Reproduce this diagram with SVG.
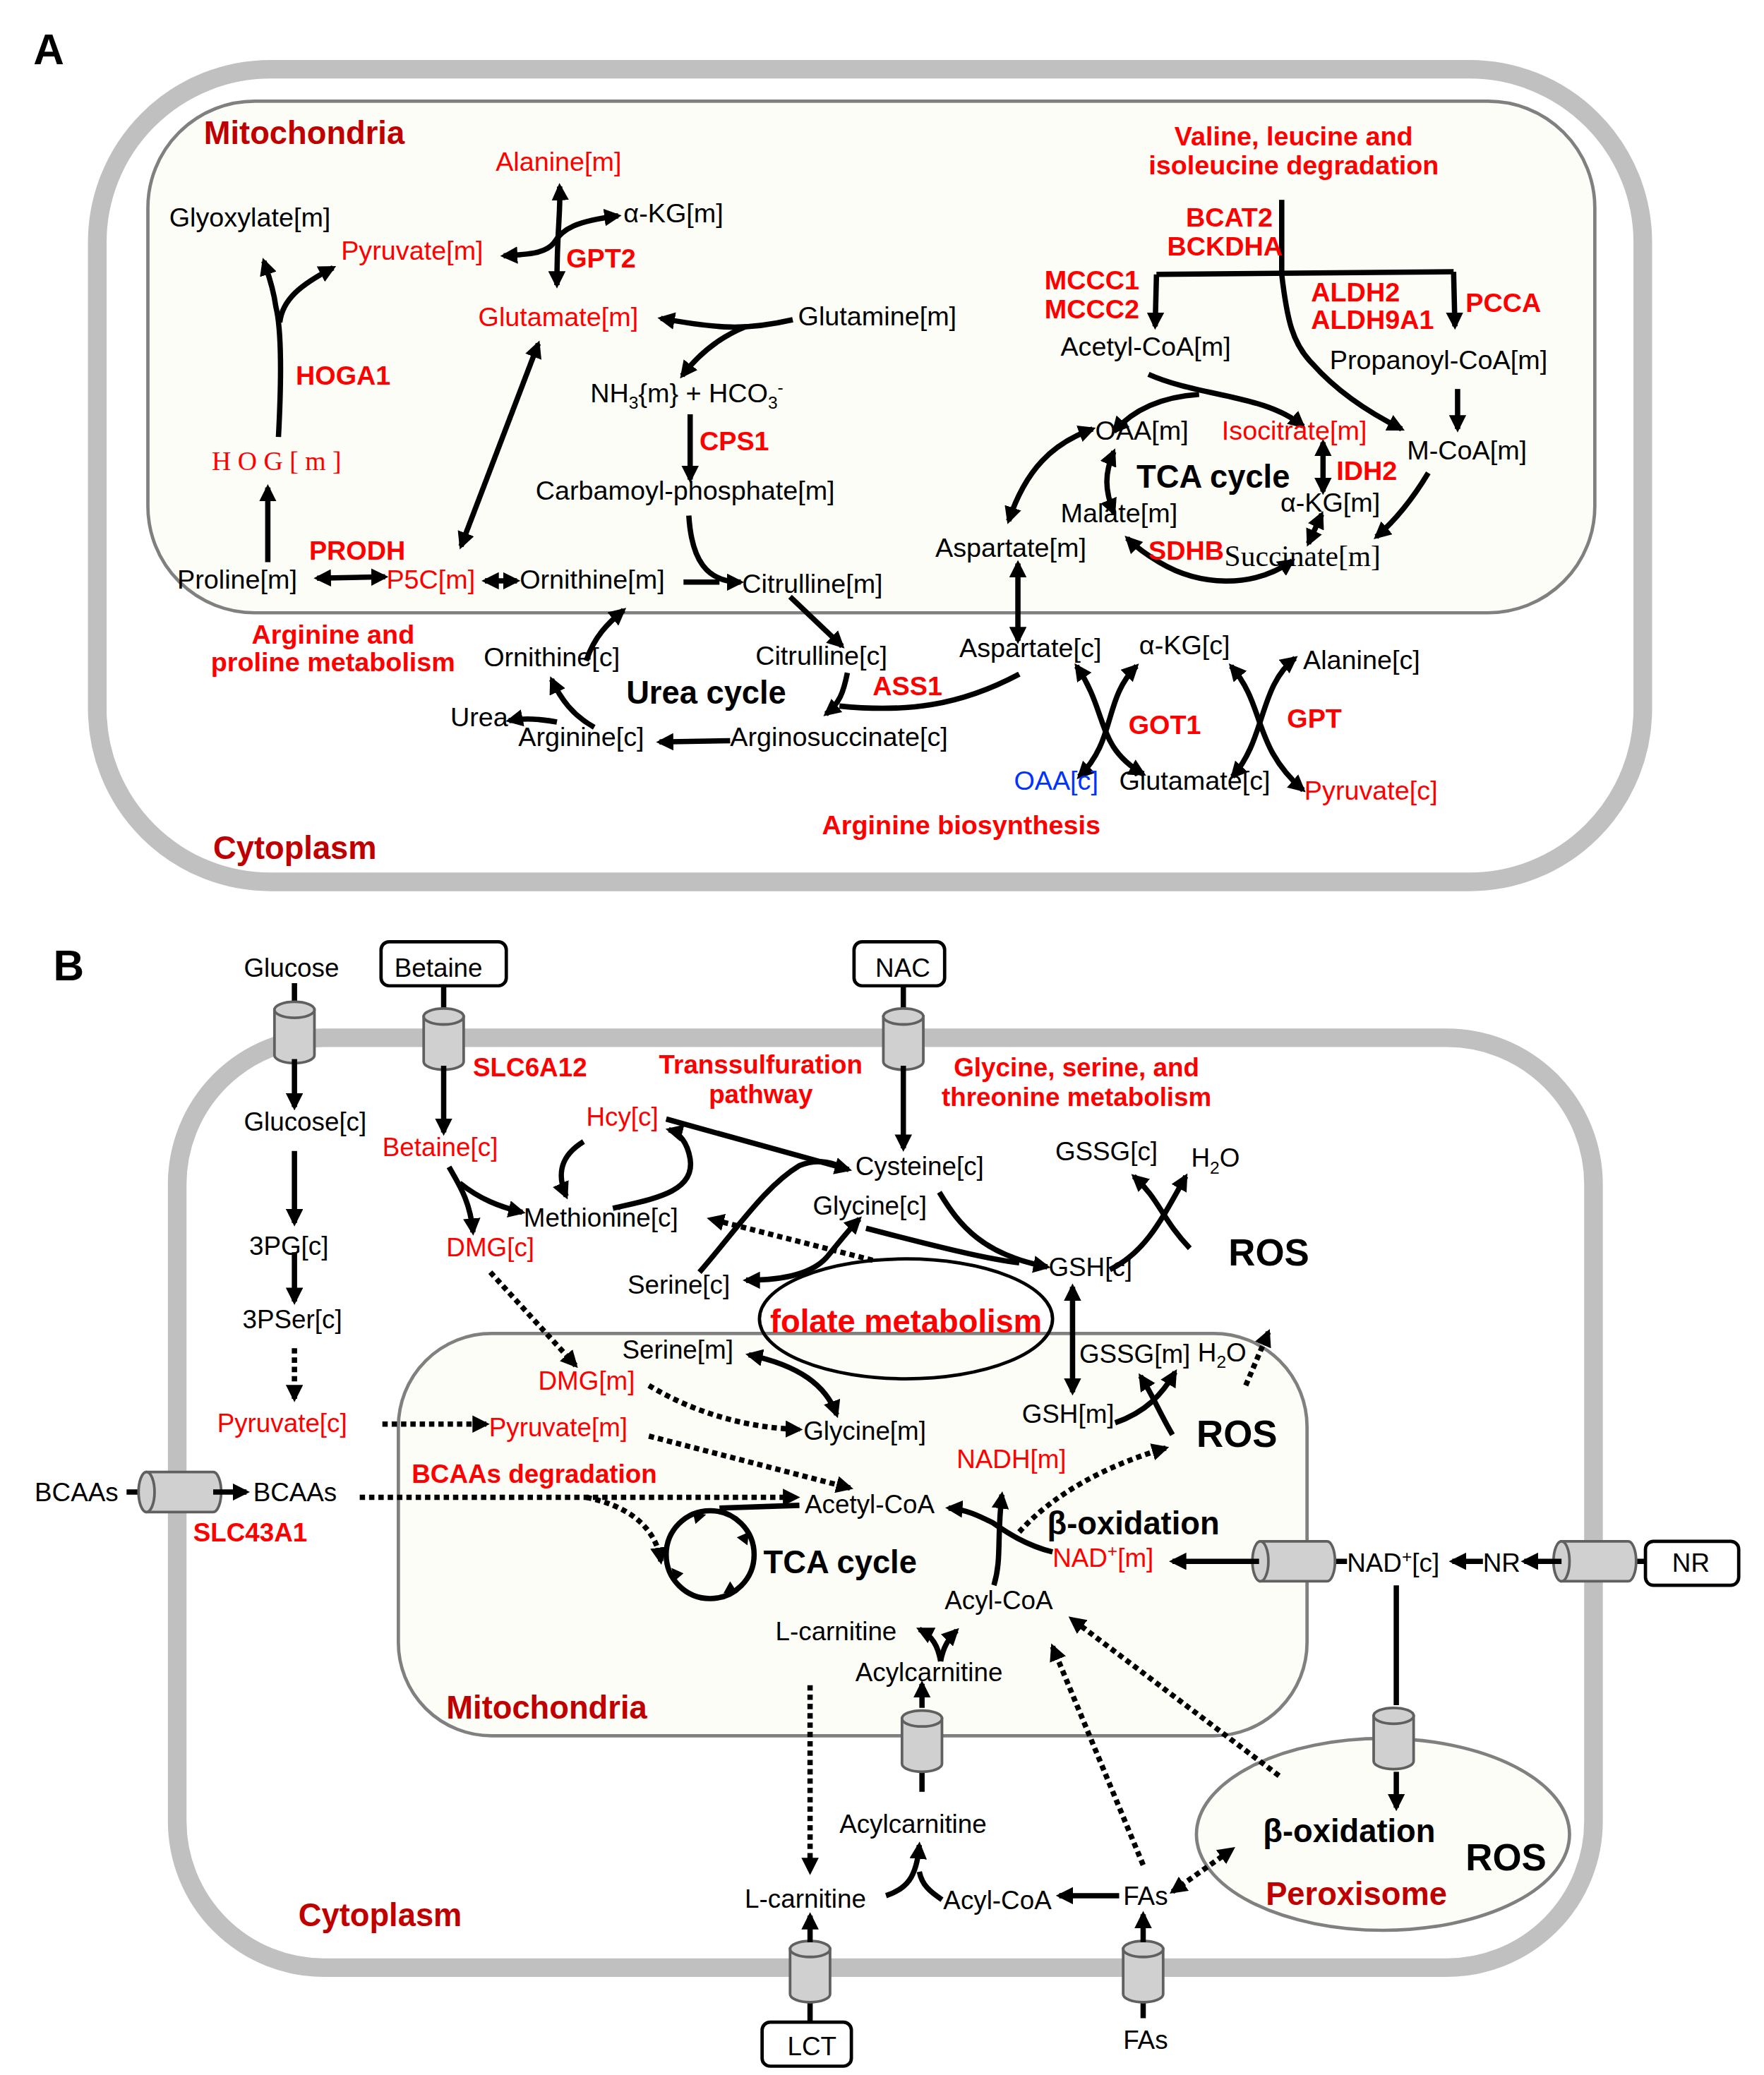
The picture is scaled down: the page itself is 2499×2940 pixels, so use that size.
<svg xmlns="http://www.w3.org/2000/svg" width="2499" height="2940" viewBox="0 0 2499 2940">
<defs>
<style>
text{font-family:"Liberation Sans",Arial,sans-serif;font-size:20px;fill:#000}
.r{fill:#ff0000}
.b{fill:#0033ff}
.e{font-weight:bold;fill:#ff0000}
.t{font-weight:bold;font-size:24px;fill:#c00000}
.k{font-weight:bold;font-size:24px}
.ros{font-weight:bold;font-size:28px}
.B text{font-size:19.5px}
.B .e{font-size:19.5px}
.B .t,.B .k{font-size:24px}
.B .ros{font-size:28px}
.a{fill:none;stroke:#000;stroke-width:4;marker-end:url(#ah)}
.d{fill:none;stroke:#000;stroke-width:4;marker-end:url(#ah);marker-start:url(#ah)}
.l{fill:none;stroke:#000;stroke-width:4}
.dot{fill:none;stroke:#000;stroke-width:4;stroke-dasharray:4 3;marker-end:url(#ah)}
.cell{fill:#fff;stroke:#c0c0c0;stroke-width:14}
.mito{fill:#fdfdf7;stroke:#808080;stroke-width:2.5}
.cyl{fill:#d0d0d0;stroke:#606060;stroke-width:2}
.box{fill:#fff;stroke:#000;stroke-width:2.5}
</style>
<marker id="ah" viewBox="0 0 10 10" refX="8" refY="5" markerWidth="13" markerHeight="13" markerUnits="userSpaceOnUse" orient="auto-start-reverse"><path d="M0,0 L10,5 L0,10 z" fill="#000"/></marker>
<g id="cylV"><path class="cyl" d="M-15,-17 v34 a15,6 0 0 0 30,0 v-34 z"/><ellipse class="cyl" cx="0" cy="-17" rx="15" ry="6"/></g>
<g id="cylH"><path class="cyl" d="M-25,-15 h50 a6,15 0 0 1 0,30 h-50 z"/><ellipse class="cyl" cx="-25" cy="0" rx="6" ry="15"/></g>
</defs>
<rect width="2499" height="2940" fill="#fff"/>
<g transform="scale(1.8875)">
<g id="panelA">
<text x="25" y="48" style="font-weight:bold;font-size:32px">A</text>
<rect class="cell" x="73" y="52" width="1160" height="610" rx="130"/>
<rect class="mito" x="111" y="76" width="1086" height="384" rx="80"/>
<text class="t" x="153" y="108">Mitochondria</text>
<text class="t" x="160" y="645">Cytoplasm</text>
</g>
<g id="connectorsA">
<path class="a" d="M201,422 V366"/>
<path class="a" d="M209,328 C211,290 212,250 207,230 C205,215 201,205 198,196"/>
<path class="a" d="M210,242 C212,225 225,214 250,201"/>
<path class="d" d="M420,140 C421,160 418,170 418,214"/>
<path class="d" d="M464,162 C432,166 422,172 416,182 C410,190 398,191 378,192"/>
<path class="a" d="M595,240 C560,248 540,247 496,239"/>
<path class="a" d="M560,245 C540,253 525,265 512,282"/>
<path class="a" d="M518,311 V360"/>
<path class="d" d="M404,258 L346,410"/>
<path class="d" d="M238,434 L289,433"/>
<path class="d" d="M364,436 L388,436"/>
<path class="a" d="M517,387 C519,420 530,437 556,437"/>
<path class="l" d="M513,437 L540,437"/>
<path class="a" d="M593,448 L632,485"/>
<path class="a" d="M636,505 C633,520 630,528 620,536"/>
<path class="l" d="M765,506 C720,530 680,535 630,530"/>
<path class="a" d="M548,556 L495,557"/>
<path class="a" d="M446,546 C430,537 421,525 414,510"/>
<path class="a" d="M418,542 C402,539 392,539 382,541"/>
<path class="a" d="M440,496 C446,478 456,468 468,458"/>
<path class="l" d="M962,150 V206"/>
<path class="l" d="M868,206 L1091,204"/>
<path class="a" d="M868,206 L867,245"/>
<path class="a" d="M1091,204 L1092,245"/>
<path class="a" d="M962,206 C966,240 970,258 985,273 C1000,290 1020,306 1052,322"/>
<path class="a" d="M1094,292 V322"/>
<path class="a" d="M1072,355 C1060,375 1048,390 1033,403"/>
<path class="a" d="M862,281 C900,298 950,296 978,320"/>
<path class="a" d="M900,296 C870,298 850,308 836,324"/>
<path class="d" d="M836,339 C829,355 829,368 836,385"/>
<path class="d" d="M993,332 V369"/>
<path class="d" d="M992,386 L982,408"/>
<path class="d" d="M970,421 C940,442 900,440 870,422 C860,416 852,410 846,404"/>
<path class="d" d="M820,322 C790,333 770,352 757,391"/>
<path class="d" d="M764,423 V481"/>
<path class="d" d="M808,500 C832,535 822,560 858,581"/>
<path class="d" d="M853,500 C828,525 838,555 810,583"/>
<path class="d" d="M924,500 C950,530 940,560 978,593"/>
<path class="d" d="M972,494 C945,515 950,555 925,583"/>
</g>
<g id="labelsA">
<text class="r" x="372" y="128">Alanine[m]</text>
<text x="468" y="167">α-KG[m]</text>
<text x="127" y="170">Glyoxylate[m]</text>
<text class="r" x="256" y="195">Pyruvate[m]</text>
<text class="e" x="425" y="201">GPT2</text>
<text class="r" x="359" y="245">Glutamate[m]</text>
<text x="599" y="244">Glutamine[m]</text>
<text class="e" x="222" y="289">HOGA1</text>
<text x="443" y="302">NH<tspan font-size="13" dy="5">3</tspan><tspan dy="-5">{m} + HCO</tspan><tspan font-size="13" dy="5">3</tspan><tspan font-size="13" dy="-12">-</tspan></text>
<text class="e" x="525" y="338">CPS1</text>
<text class="r" x="159" y="353" style="font-family:'Liberation Serif',serif;letter-spacing:5px">HOG[m]</text>
<text x="402" y="375">Carbamoyl-phosphate[m]</text>
<text class="e" x="232" y="420">PRODH</text>
<text x="133" y="442">Proline[m]</text>
<text class="r" x="290" y="442">P5C[m]</text>
<text x="390" y="442">Ornithine[m]</text>
<text x="557" y="445">Citrulline[m]</text>
<text class="e" x="250" y="483" text-anchor="middle">Arginine and</text>
<text class="e" x="250" y="504" text-anchor="middle">proline metabolism</text>
<text x="363" y="500">Ornithine[c]</text>
<text x="567" y="499">Citrulline[c]</text>
<text class="k" x="470" y="528">Urea cycle</text>
<text class="e" x="655" y="522">ASS1</text>
<text x="338" y="545">Urea</text>
<text x="389" y="560">Arginine[c]</text>
<text x="548" y="560">Arginosuccinate[c]</text>
<text class="e" x="617" y="626">Arginine biosynthesis</text>
<text class="e" x="971" y="109" text-anchor="middle">Valine, leucine and</text>
<text class="e" x="971" y="131" text-anchor="middle">isoleucine degradation</text>
<text class="e" x="890" y="170">BCAT2</text>
<text class="e" x="876" y="192">BCKDHA</text>
<text class="e" x="784" y="217">MCCC1</text>
<text class="e" x="784" y="239">MCCC2</text>
<text class="e" x="984" y="226">ALDH2</text>
<text class="e" x="984" y="247">ALDH9A1</text>
<text class="e" x="1100" y="234">PCCA</text>
<text x="796" y="267">Acetyl-CoA[m]</text>
<text x="998" y="277">Propanoyl-CoA[m]</text>
<text x="822" y="330">OAA[m]</text>
<text class="r" x="917" y="330">Isocitrate[m]</text>
<text x="1056" y="345">M-CoA[m]</text>
<text class="k" x="853" y="366">TCA cycle</text>
<text class="e" x="1003" y="360">IDH2</text>
<text x="796" y="392">Malate[m]</text>
<text x="961" y="384">α-KG[m]</text>
<text x="702" y="418">Aspartate[m]</text>
<text class="e" x="862" y="420">SDHB</text>
<text x="919" y="425" style="font-family:'Liberation Serif',serif;font-size:22px">Succinate[m]</text>
<text x="720" y="493">Aspartate[c]</text>
<text x="855" y="491">α-KG[c]</text>
<text x="978" y="502">Alanine[c]</text>
<text class="e" x="847" y="551">GOT1</text>
<text class="e" x="966" y="546">GPT</text>
<text class="b" x="761" y="593">OAA[c]</text>
<text x="840" y="593">Glutamate[c]</text>
<text class="r" x="979" y="600">Pyruvate[c]</text>
</g>
<g class="B">
<g id="panelB">
<text x="40" y="736" style="font-weight:bold;font-size:32px">B</text>
<rect class="cell" x="133" y="779" width="1063" height="698" rx="110"/>
<rect class="mito" x="299" y="1001" width="682" height="302" rx="70"/>
<ellipse class="mito" cx="1038" cy="1377" rx="140" ry="72"/>
<ellipse cx="680" cy="990" rx="110" ry="45" fill="none" stroke="#000" stroke-width="2.5"/>
<text class="t" x="335" y="1290">Mitochondria</text>
<text class="t" x="224" y="1446">Cytoplasm</text>
<text class="t" x="950" y="1430">Peroxisome</text>
</g>
<g id="transporters">
<rect class="box" x="286" y="707" width="94" height="33" rx="6"/>
<rect class="box" x="641" y="707" width="68" height="33" rx="6"/>
<rect class="box" x="572" y="1518" width="67" height="33" rx="6"/>
<rect class="box" x="1235" y="1157" width="70" height="33" rx="6"/>
<path class="l" d="M221,738 V755 M333,740 V757 M678,740 V757 M608,1500 V1518 M858,1500 V1515 M692,1330 V1345 M95,1120 H110 M1222,1172 H1235 M997,1172 H1011 M1048,1190 V1280"/>
<use href="#cylV" x="221" y="775"/>
<use href="#cylV" x="333" y="780"/>
<use href="#cylV" x="678" y="780"/>
<use href="#cylV" x="692" y="1307"/>
<use href="#cylV" x="1046" y="1305"/>
<use href="#cylV" x="608" y="1480"/>
<use href="#cylV" x="858" y="1480"/>
<use href="#cylH" x="135" y="1120"/>
<use href="#cylH" x="971" y="1172"/>
<use href="#cylH" x="1197" y="1172"/>
</g>
<g id="connectorsB">
<path class="a" d="M221,795 V831"/>
<path class="a" d="M221,864 V918"/>
<path class="a" d="M221,940 V977"/>
<path class="dot" d="M221,1012 V1050"/>
<path class="a" d="M333,800 V850"/>
<path class="a" d="M337,876 C345,890 353,902 355,925"/>
<path class="a" d="M345,888 C360,900 375,906 392,910"/>
<path class="a" d="M438,857 C420,868 418,882 425,898"/>
<path class="a" d="M460,907 C490,900 522,895 518,870 C516,858 510,850 502,848"/>
<path class="a" d="M500,840 L637,878"/>
<path class="l" d="M525,955 C555,920 575,890 600,875 C612,870 622,872 632,876"/>
<path class="d" d="M560,961 C592,961 612,955 622,942 C630,932 638,922 645,915"/>
<path class="dot" d="M655,946 L533,915"/>
<path class="a" d="M705,895 C720,920 738,942 786,951"/>
<path class="l" d="M650,922 C700,935 740,945 765,948"/>
<path class="a" d="M833,953 C860,940 872,915 890,883"/>
<path class="a" d="M893,937 C872,915 870,900 851,883"/>
<path class="d" d="M805,966 V1045"/>
<path class="dot" d="M935,1040 L952,1000"/>
<path class="a" d="M837,1068 C860,1060 872,1047 882,1030"/>
<path class="a" d="M880,1077 C870,1060 865,1047 856,1033"/>
<path class="dot" d="M765,1150 C790,1122 830,1100 875,1087"/>
<path class="a" d="M746,1190 C752,1170 748,1155 752,1122"/>
<path class="a" d="M790,1165 C770,1160 755,1150 745,1143 C735,1138 725,1133 712,1132"/>
<path class="a" d="M945,1172 L880,1172"/>
<path class="a" d="M1113,1172 L1090,1172"/>
<path class="a" d="M1172,1172 L1144,1172"/>
<path class="a" d="M1048,1330 V1357"/>
<path class="dot" d="M880,1420 L925,1388" style="marker-start:url(#ah)"/>
<path class="dot" d="M960,1333 L804,1215"/>
<path class="dot" d="M858,1400 L790,1236"/>
<path class="a" d="M692,1282 V1264"/>
<path class="a" d="M706,1247 C704,1236 700,1228 690,1223"/>
<path class="a" d="M706,1247 C708,1236 712,1230 718,1224"/>
<path class="dot" d="M608,1265 V1405"/>
<path class="a" d="M608,1458 V1438"/>
<path class="a" d="M665,1423 C680,1418 688,1410 690,1385"/>
<path class="l" d="M707,1426 C698,1420 692,1415 690,1405"/>
<path class="a" d="M840,1423 L795,1423"/>
<path class="a" d="M858,1458 V1437"/>
<path class="a" d="M160,1120 L185,1120"/>
<path class="dot" d="M270,1124 L598,1124"/>
<path class="dot" d="M440,1124 C470,1130 492,1145 496,1172"/>
<circle cx="533" cy="1167" r="33" fill="none" stroke="#000" stroke-width="4"/>
<path d="M520,1135 l10,2 l-8,7 z M562,1150 l-1,10 l-8,-6 z M553,1195 l-10,1 l5,-9 z M506,1187 l-2,-10 l9,4 z" fill="#000"/>
<path class="l" d="M600,1130 L540,1132"/>
<path class="dot" d="M287,1069 L365,1069"/>
<path class="dot" d="M487,1078 L638,1117"/>
<path class="dot" d="M368,955 L432,1025"/>
<path class="dot" d="M487,1040 C520,1060 560,1072 600,1073"/>
<path class="d" d="M562,1017 C600,1025 620,1040 628,1062"/>
<path class="a" d="M678,800 V862"/>
</g>
<g id="labelsB">
<text x="183" y="733">Glucose</text>
<text x="296" y="733">Betaine</text>
<text x="657" y="733">NAC</text>
<text class="e" x="355" y="808">SLC6A12</text>
<text class="e" x="571" y="806" text-anchor="middle">Transsulfuration</text>
<text class="e" x="571" y="828" text-anchor="middle">pathway</text>
<text class="e" x="808" y="808" text-anchor="middle">Glycine, serine, and</text>
<text class="e" x="808" y="830" text-anchor="middle">threonine metabolism</text>
<text x="183" y="849">Glucose[c]</text>
<text class="r" x="287" y="868">Betaine[c]</text>
<text class="r" x="440" y="845">Hcy[c]</text>
<text x="642" y="882">Cysteine[c]</text>
<text x="792" y="871">GSSG[c]</text>
<text x="894" y="876">H<tspan font-size="13" dy="5">2</tspan><tspan dy="-5">O</tspan></text>
<text x="610" y="912">Glycine[c]</text>
<text x="393" y="921">Methionine[c]</text>
<text x="187" y="942">3PG[c]</text>
<text class="r" x="335" y="943">DMG[c]</text>
<text x="787" y="958">GSH[c]</text>
<text class="ros" x="922" y="950">ROS</text>
<text x="471" y="971">Serine[c]</text>
<text x="182" y="997">3PSer[c]</text>
<text class="e" x="680" y="1000" text-anchor="middle" style="font-size:24px">folate metabolism</text>
<text x="467" y="1020">Serine[m]</text>
<text x="810" y="1023">GSSG[m]</text>
<text x="899" y="1022">H<tspan font-size="13" dy="5">2</tspan><tspan dy="-5">O</tspan></text>
<text class="r" x="404" y="1043">DMG[m]</text>
<text x="767" y="1068">GSH[m]</text>
<text x="603" y="1081">Glycine[m]</text>
<text class="ros" x="898" y="1086">ROS</text>
<text class="r" x="163" y="1075">Pyruvate[c]</text>
<text class="r" x="367" y="1078">Pyruvate[m]</text>
<text class="r" x="718" y="1102">NADH[m]</text>
<text class="e" x="309" y="1113">BCAAs degradation</text>
<text x="26" y="1127">BCAAs</text>
<text x="190" y="1127">BCAAs</text>
<text x="604" y="1136">Acetyl-CoA</text>
<text class="k" x="786" y="1152">β-oxidation</text>
<text class="e" x="145" y="1157">SLC43A1</text>
<text class="k" x="573" y="1181">TCA cycle</text>
<text class="r" x="790" y="1176">NAD<tspan font-size="13" dy="-7">+</tspan><tspan dy="7">[m]</tspan></text>
<text x="1011" y="1180">NAD<tspan font-size="13" dy="-7">+</tspan><tspan dy="7">[c]</tspan></text>
<text x="1113" y="1180">NR</text>
<text x="1255" y="1180">NR</text>
<text x="709" y="1208">Acyl-CoA</text>
<text x="582" y="1231">L-carnitine</text>
<text x="642" y="1262">Acylcarnitine</text>
<text x="630" y="1376">Acylcarnitine</text>
<text class="k" x="948" y="1383">β-oxidation</text>
<text class="ros" x="1100" y="1404">ROS</text>
<text x="559" y="1432">L-carnitine</text>
<text x="708" y="1433">Acyl-CoA</text>
<text x="843" y="1430">FAs</text>
<text x="591" y="1543">LCT</text>
<text x="843" y="1538">FAs</text>
</g>
</g>
</g>
</svg>
